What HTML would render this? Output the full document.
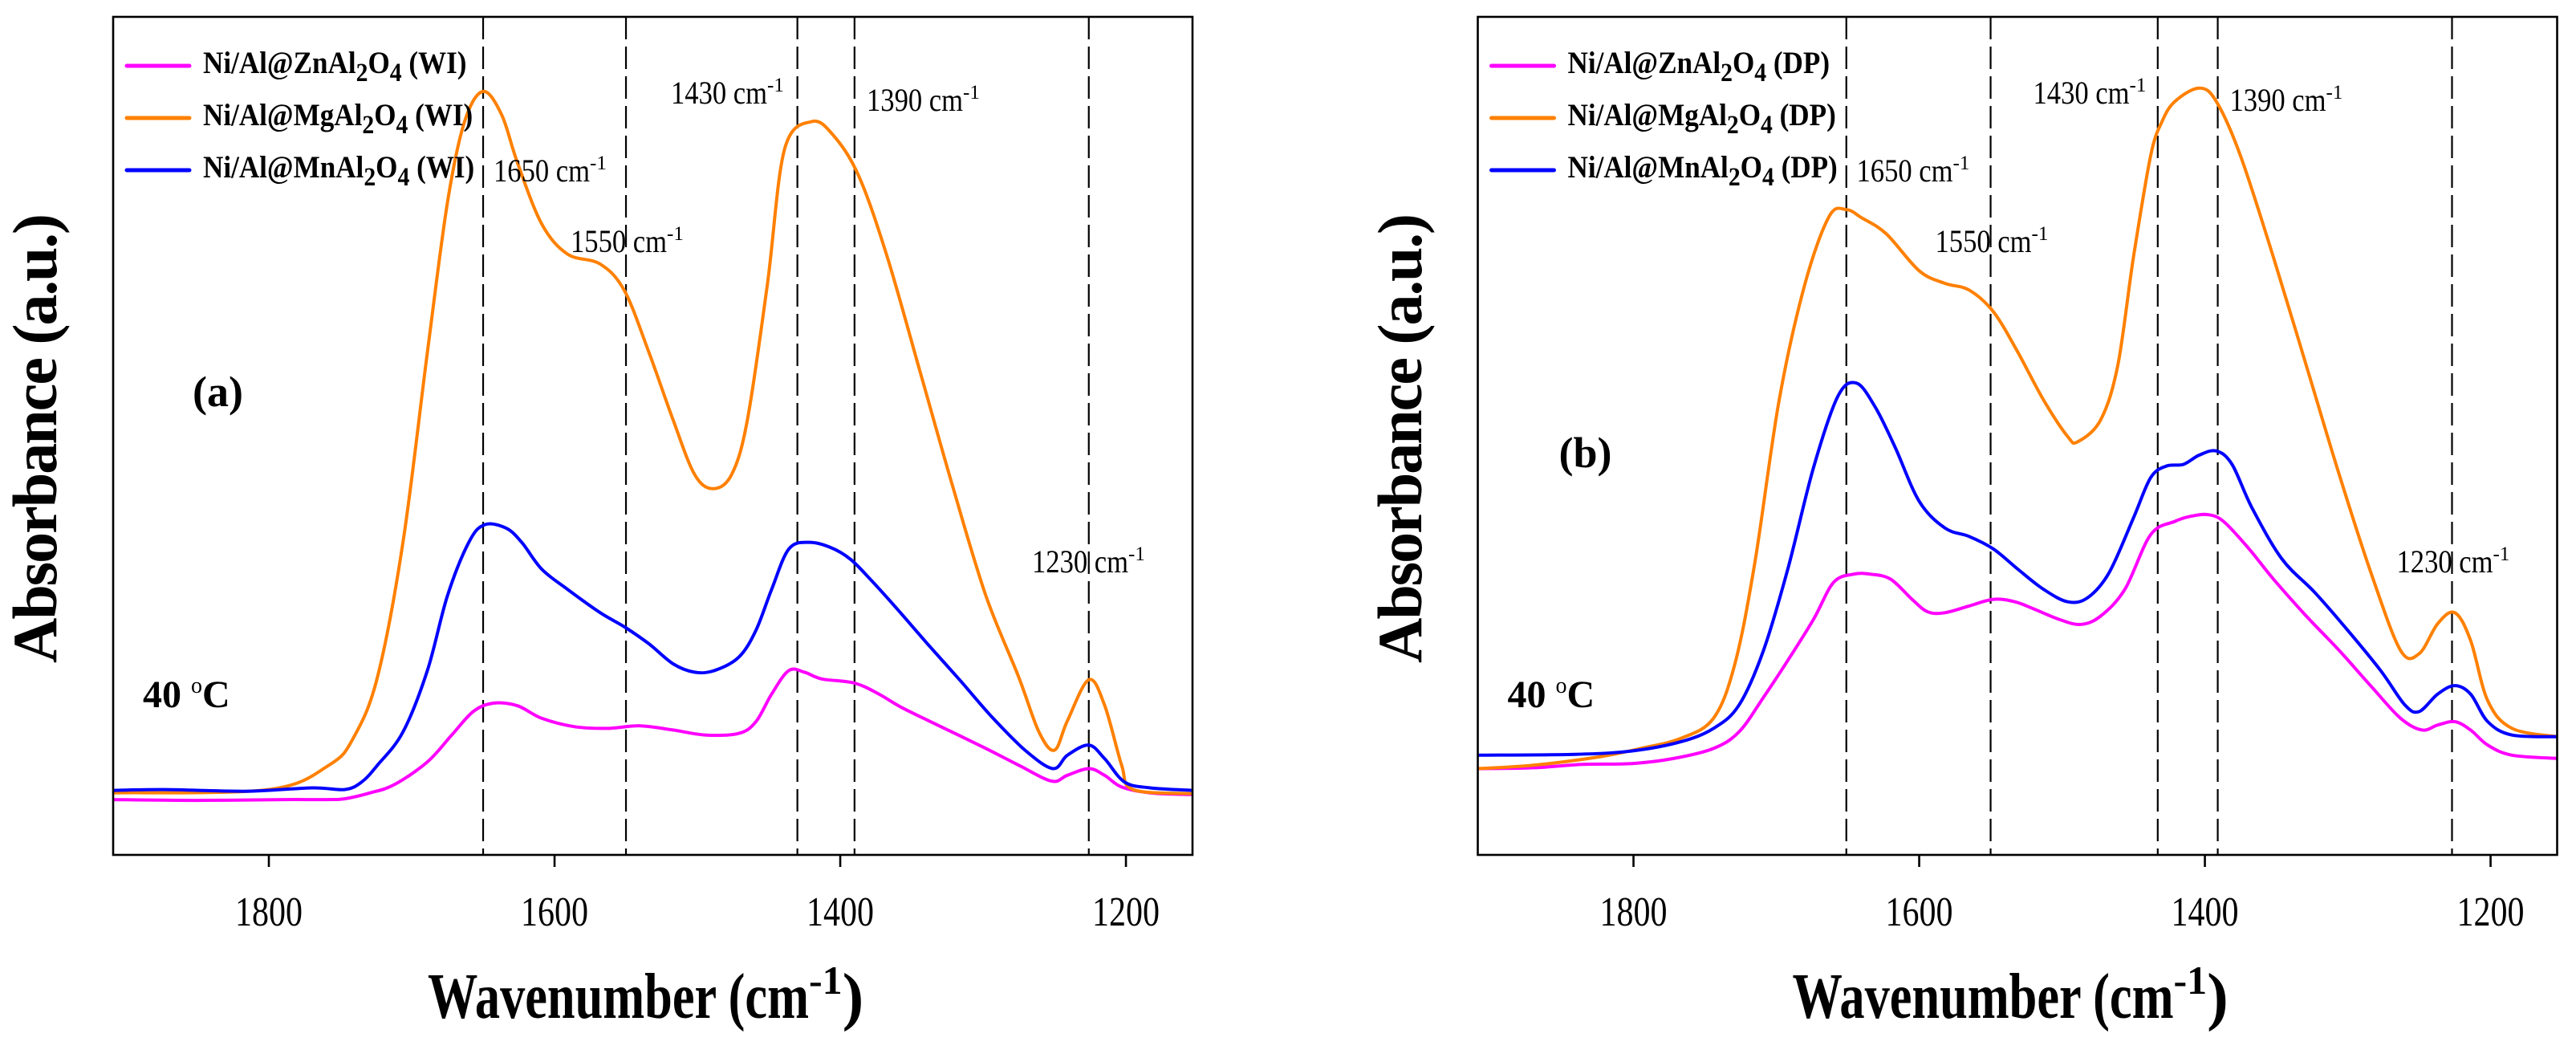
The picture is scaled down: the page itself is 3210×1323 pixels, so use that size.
<!DOCTYPE html>
<html><head><meta charset="utf-8">
<style>
html,body{margin:0;padding:0;background:#fff;}
svg{display:block;}
text{font-family:"Liberation Serif","Times New Roman",serif;}
</style></head>
<body>
<svg id="fig" width="3210" height="1323" viewBox="0 0 3210 1323" xmlns="http://www.w3.org/2000/svg"></svg>
<script>
// ===== Data (wavenumber cm-1 / absorbance a.u., normalized 0..1 of plot height) =====
const xTicks = [1800, 1600, 1400, 1200];
const markerWavesA = [1650, 1550, 1430, 1390, 1226];
const markerWavesB = [1651, 1550, 1433, 1391, 1227];
const markerLabels = ["1650", "1550", "1430", "1390", "1230"];

// Panel (a) WI
const wiZnWave = [1909,1850,1790,1760,1747,1729,1712,1689,1672,1657,1643,1626,1609,1586,1563,1540,1517,1494,1471,1459,1448,1436,1425,1413,1390,1373,1356,1327,1298,1275,1252,1241,1226,1215,1203,1183,1154];
const wiZnAbs  = [0.066,0.065,0.066,0.066,0.067,0.074,0.084,0.111,0.143,0.171,0.181,0.178,0.163,0.153,0.151,0.154,0.149,0.143,0.145,0.159,0.192,0.220,0.218,0.210,0.205,0.192,0.175,0.151,0.127,0.107,0.088,0.095,0.103,0.095,0.081,0.074,0.072];
const wiMgWave = [1909,1800,1758,1741,1724,1706,1689,1675,1663,1650,1637,1626,1609,1591,1568,1551,1534,1517,1502,1489,1476,1465,1451,1439,1420,1405,1387,1367,1344,1321,1298,1275,1261,1250,1241,1226,1215,1203,1195,1154];
const wiMgAbs  = [0.074,0.078,0.107,0.139,0.212,0.374,0.600,0.778,0.875,0.911,0.883,0.826,0.753,0.717,0.705,0.673,0.600,0.519,0.454,0.437,0.454,0.519,0.681,0.842,0.875,0.859,0.810,0.713,0.576,0.438,0.309,0.212,0.147,0.125,0.160,0.209,0.179,0.107,0.078,0.073];
const wiMnWave = [1909,1873,1816,1770,1747,1735,1724,1706,1689,1675,1660,1649,1634,1623,1609,1591,1568,1551,1534,1517,1502,1488,1471,1459,1448,1436,1422,1407,1393,1379,1362,1339,1316,1293,1270,1251,1241,1226,1215,1201,1183,1154];
const wiMnAbs  = [0.077,0.078,0.076,0.080,0.078,0.087,0.107,0.147,0.220,0.309,0.373,0.394,0.390,0.373,0.341,0.317,0.289,0.272,0.252,0.228,0.218,0.220,0.236,0.268,0.317,0.365,0.373,0.367,0.353,0.329,0.297,0.252,0.208,0.163,0.124,0.103,0.119,0.131,0.115,0.087,0.080,0.077];

// Panel (b) DP
const dpZnWave = [1909,1870,1836,1801,1772,1744,1726,1709,1692,1674,1660,1646,1634,1620,1605,1594,1582,1565,1548,1533,1519,1502,1487,1473,1456,1438,1421,1410,1398,1387,1369,1352,1329,1306,1283,1263,1248,1237,1225,1214,1202,1185,1153];
const dpZnAbs  = [0.103,0.104,0.108,0.109,0.115,0.127,0.147,0.188,0.232,0.281,0.325,0.335,0.335,0.329,0.305,0.290,0.289,0.297,0.305,0.302,0.293,0.281,0.275,0.285,0.317,0.382,0.398,0.404,0.406,0.398,0.365,0.329,0.285,0.244,0.200,0.163,0.149,0.155,0.159,0.149,0.131,0.119,0.115];
const dpMgWave = [1909,1870,1824,1795,1767,1744,1729,1715,1698,1680,1663,1651,1640,1623,1600,1582,1565,1548,1531,1513,1496,1489,1473,1461,1450,1438,1430,1421,1404,1392,1375,1352,1329,1306,1283,1263,1250,1237,1225,1214,1202,1185,1153];
const dpMgAbs  = [0.103,0.107,0.117,0.127,0.139,0.163,0.228,0.349,0.543,0.681,0.762,0.770,0.760,0.741,0.697,0.682,0.674,0.648,0.600,0.543,0.499,0.493,0.519,0.584,0.713,0.834,0.875,0.899,0.915,0.899,0.834,0.713,0.584,0.454,0.333,0.244,0.240,0.276,0.289,0.256,0.184,0.151,0.141];
const dpMnWave = [1909,1841,1801,1767,1744,1726,1709,1692,1674,1657,1644,1631,1617,1600,1582,1565,1548,1531,1513,1496,1482,1467,1450,1438,1427,1415,1404,1392,1381,1367,1346,1323,1300,1277,1260,1250,1237,1225,1214,1202,1185,1153];
const dpMnAbs  = [0.119,0.120,0.124,0.135,0.151,0.179,0.244,0.341,0.462,0.547,0.563,0.535,0.487,0.422,0.390,0.380,0.365,0.341,0.317,0.302,0.307,0.337,0.402,0.450,0.464,0.466,0.477,0.482,0.466,0.414,0.353,0.313,0.268,0.220,0.179,0.171,0.192,0.202,0.192,0.159,0.143,0.141];

// ===== Layout =====
const NS = "http://www.w3.org/2000/svg";
const svg = document.getElementById("fig");
const W_MAX = 1909, W_MIN = 1153.4;
const PLOT_W = 1345, TOP = 21, BOTTOM = 1065;

function mk(tag, attrs, parent) {
  const e = document.createElementNS(NS, tag);
  for (const k in attrs) e.setAttribute(k, attrs[k]);
  (parent || svg).appendChild(e);
  return e;
}

function smoothPath(pts) {
  let d = "M" + pts[0][0].toFixed(1) + "," + pts[0][1].toFixed(1);
  for (let i = 0; i < pts.length - 1; i++) {
    const p0 = pts[Math.max(0, i - 1)], p1 = pts[i], p2 = pts[i + 1], p3 = pts[Math.min(pts.length - 1, i + 2)];
    const c1x = p1[0] + (p2[0] - p0[0]) / 6, c1y = p1[1] + (p2[1] - p0[1]) / 6;
    const c2x = p2[0] - (p3[0] - p1[0]) / 6, c2y = p2[1] - (p3[1] - p1[1]) / 6;
    d += " C" + c1x.toFixed(1) + "," + c1y.toFixed(1) + " " + c2x.toFixed(1) + "," + c2y.toFixed(1) + " " + p2[0].toFixed(1) + "," + p2[1].toFixed(1);
  }
  return d;
}

function drawPanel(cfg) {
  const x0 = cfg.x0;
  const xs = w => x0 + (W_MAX - w) / (W_MAX - W_MIN) * PLOT_W;
  const ys = a => BOTTOM - a * (BOTTOM - TOP);
  const g = mk("g", {});
  
  

  cfg.markers.forEach((w, i) => {
    const l = mk("line", {x1: xs(w), x2: xs(w), y1: TOP, y2: BOTTOM, stroke: "#000", "stroke-width": 2.2, "stroke-dasharray": "28,9"}, g);
    
    
  });

  cfg.series.forEach(s => {
    const pts = s.wave.map((w, i) => [xs(w), ys(s.abs[i])]);
    const p = mk("path", {d: smoothPath(pts), fill: "none", stroke: s.color, "stroke-width": 4, "stroke-linejoin": "round"}, g);
    
    
  });

  const fr = mk("rect", {x: x0, y: TOP, width: PLOT_W, height: BOTTOM - TOP, fill: "none", stroke: "#000", "stroke-width": 2.6}, g);
  
  

  xTicks.forEach(t => {
    const tk = mk("line", {x1: xs(t), x2: xs(t), y1: BOTTOM, y2: BOTTOM + 15, stroke: "#000", "stroke-width": 2.6}, g);
    
    
    const tl = mk("text", {x: xs(t) - 42, y: 1153, "font-size": 52, textLength: 84, lengthAdjust: "spacingAndGlyphs"}, g);
    tl.textContent = t;
    
    
  });

  cfg.labelPos.forEach((p, i) => {
    const t = mk("text", {x: x0 + p[0], y: p[1], "font-size": 40}, g);
    const a = mk("tspan", {textLength: 120, lengthAdjust: "spacingAndGlyphs"}, t);
    a.textContent = markerLabels[i] + " cm";
    const b = mk("tspan", {dy: -15, "font-size": 25}, t);
    b.textContent = "-1";
    
    
  });

  cfg.series.forEach((s, i) => {
    const y = 82 + i * 65;
    const ll = mk("line", {x1: x0 + 17, x2: x0 + 95, y1: y, y2: y, stroke: s.color, "stroke-width": 5, "stroke-linecap": "round"}, g);
    
    
    const t = mk("text", {x: 0, y: 0, "font-size": 39, "font-weight": "bold", transform: "translate(" + (x0 + 112) + "," + (y + 9) + ") scale(0.9,1)"}, g);
    const t1 = mk("tspan", {}, t); t1.textContent = "Ni/Al@" + s.metal + "Al";
    const t2 = mk("tspan", {dy: 10, "font-size": 33}, t); t2.textContent = "2";
    const t3 = mk("tspan", {dy: -10}, t); t3.textContent = "O";
    const t4 = mk("tspan", {dy: 10, "font-size": 33}, t); t4.textContent = "4";
    const t5 = mk("tspan", {dy: -10}, t); t5.textContent = " (" + cfg.method + ")";
    
    
  });

  const pl = mk("text", {x: x0 + cfg.letterDx, y: cfg.letterY, "font-size": 54, "font-weight": "bold"}, g);
  pl.textContent = cfg.letter;
  
  

  const tt = mk("text", {x: x0 + 37, y: 881, "font-size": 48, "font-weight": "bold"}, g);
  const ta = mk("tspan", {}, tt); ta.textContent = "40 ";
  const tb = mk("tspan", {dy: -18, "font-size": 28, "font-weight": "normal"}, tt); tb.textContent = "o";
  const tc = mk("tspan", {dy: 18}, tt); tc.textContent = "C";
  
  

  const yt = mk("text", {x: 0, y: 0, "font-size": 78, "font-weight": "bold", textLength: 560, lengthAdjust: "spacing", transform: "translate(" + (cfg.yTitleX) + ",826) rotate(-90)"}, g);
  yt.textContent = "Absorbance (a.u.)";
  
  

  const xt = mk("text", {x: x0 + 392, y: 1268, "font-size": 80, "font-weight": "bold"}, g);
  const xa = mk("tspan", {textLength: 475, lengthAdjust: "spacingAndGlyphs"}, xt); xa.textContent = "Wavenumber (cm";
  const xb = mk("tspan", {dy: -30, "font-size": 50}, xt); xb.textContent = "-1";
  const xc = mk("tspan", {dy: 30}, xt); xc.textContent = ")";
  
  
}

drawPanel({
  name: "panel-a-wi", x0: 141, method: "WI", letter: "(a)", letterDx: 99, letterY: 506, yTitleX: 70,
  markers: markerWavesA,
  labelPos: [[474, 226], [570, 314], [695, 129], [939, 138], [1145, 713]],
  series: [
    {id: "zn-wi-curve", metal: "Zn", color: "#ff00ff", wave: wiZnWave, abs: wiZnAbs},
    {id: "mg-wi-curve", metal: "Mg", color: "#ff8000", wave: wiMgWave, abs: wiMgAbs},
    {id: "mn-wi-curve", metal: "Mn", color: "#0000ff", wave: wiMnWave, abs: wiMnAbs}
  ]
});
drawPanel({
  name: "panel-b-dp", x0: 1841.5, method: "DP", letter: "(b)", letterDx: 101, letterY: 582, yTitleX: 1771,
  markers: markerWavesB,
  labelPos: [[472, 226], [570, 314], [692, 129], [937, 138], [1145, 713]],
  series: [
    {id: "zn-dp-curve", metal: "Zn", color: "#ff00ff", wave: dpZnWave, abs: dpZnAbs},
    {id: "mg-dp-curve", metal: "Mg", color: "#ff8000", wave: dpMgWave, abs: dpMgAbs},
    {id: "mn-dp-curve", metal: "Mn", color: "#0000ff", wave: dpMnWave, abs: dpMnAbs}
  ]
});
</script>
</body></html>
